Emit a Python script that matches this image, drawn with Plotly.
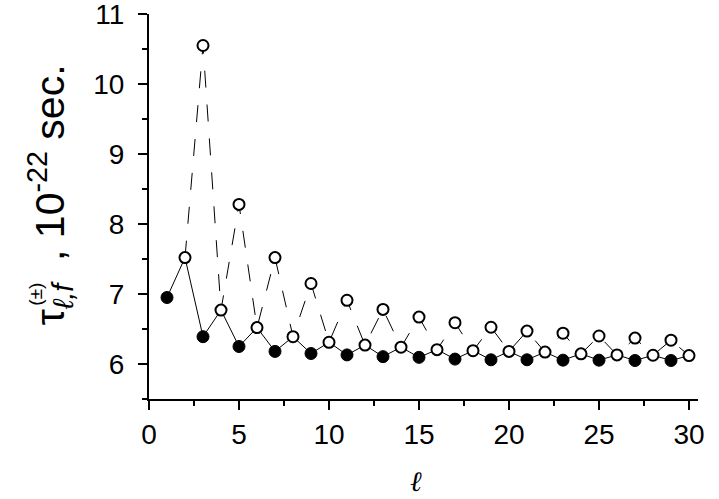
import plotly.graph_objects as go

# lifetimes (10^-22 s)
ell_odd = [1, 3, 5, 7, 9, 11, 13, 15, 17, 19, 21, 23, 25, 27, 29]
tau_odd_lower = [6.95, 6.39, 6.25, 6.18, 6.15, 6.13, 6.105, 6.095, 6.07, 6.06,
                 6.06, 6.055, 6.055, 6.05, 6.05]
ell_even = [2, 4, 6, 8, 10, 12, 14, 16, 18, 20, 22, 24, 26, 28, 30]
tau_even = [7.52, 6.77, 6.52, 6.39, 6.31, 6.27, 6.24, 6.205, 6.19, 6.18,
            6.17, 6.145, 6.13, 6.125, 6.12]
ell_upper = [3, 5, 7, 9, 11, 13, 15, 17, 19, 21, 23, 25, 27, 29]
tau_odd_upper = [10.55, 8.28, 7.52, 7.15, 6.91, 6.78, 6.67, 6.59, 6.525, 6.47,
                 6.44, 6.40, 6.37, 6.34]

# solid zig-zag: odd (filled) <-> even (open)
solid = sorted(zip(ell_odd + ell_even, tau_odd_lower + tau_even))
# dashed zig-zag: even (open) <-> odd upper (open)
dashed = sorted(zip(ell_even + ell_upper, tau_even + tau_odd_upper))

fig = go.Figure()
fig.add_trace(go.Scatter(x=[p[0] for p in dashed], y=[p[1] for p in dashed],
                         mode="lines", line=dict(color="black", width=1, dash="17px,17px")))
fig.add_trace(go.Scatter(x=[p[0] for p in solid], y=[p[1] for p in solid],
                         mode="lines", line=dict(color="black", width=1)))
fig.add_trace(go.Scatter(x=ell_odd, y=tau_odd_lower, mode="markers",
                         marker=dict(symbol="circle", size=12, color="black",
                                     line=dict(color="black", width=1))))
fig.add_trace(go.Scatter(x=ell_even + ell_upper, y=tau_even + tau_odd_upper, mode="markers",
                         marker=dict(symbol="circle", size=11, color="white",
                                     line=dict(color="black", width=2))))

axis_common = dict(showline=True, linecolor="black", linewidth=2, ticks="outside",
                   ticklen=9, tickwidth=2, tickcolor="black", showgrid=False,
                   zeroline=False, automargin=False, ticklabeloverflow="allow",
                   tickfont=dict(size=28, color="black", family="Liberation Sans"))

fig.update_layout(
    width=719, height=499,
    margin=dict(l=149, r=21, t=14, b=100),
    plot_bgcolor="white", paper_bgcolor="white",
    showlegend=False, hovermode=False,
    font=dict(family="Liberation Sans, Arial, sans-serif", color="black"),
    xaxis=dict(range=[0, 30.5], tick0=0, dtick=5,
               minor=dict(dtick=2.5, ticks="outside", ticklen=5, tickwidth=2, tickcolor="black"),
               **axis_common),
    yaxis=dict(range=[5.5, 11.0001], tick0=5, dtick=1, ticklabelstandoff=8,
               minor=dict(dtick=0.5, ticks="outside", ticklen=5, tickwidth=2, tickcolor="black"),
               **axis_common),
)

# x-axis title
fig.add_annotation(xref="paper", yref="paper", x=0.486, y=-0.213, showarrow=False,
                   xanchor="center", yanchor="middle", text="<i>ℓ</i>",
                   font=dict(size=28, family="DejaVu Serif"))
# y-axis title: main text plus the stacked (±) above the l,f subscript
fig.add_annotation(xref="paper", yref="paper", x=-0.180, y=0.530, showarrow=False,
                   xanchor="center", yanchor="middle", textangle=-90,
                   text="τ<sub><i>ℓ,f</i></sub>\u00a0\u00a0, 10<sup>-22</sup> sec.",
                   font=dict(size=41, family="Liberation Sans"))
fig.add_annotation(xref="paper", yref="paper", x=-0.207, y=0.272, showarrow=False,
                   xanchor="center", yanchor="middle", textangle=-90,
                   text="(±)", font=dict(size=19, family="Liberation Sans"))

# drop the default page margin so the figure sits at the window corner
fig.write_html("out.html", config={"displayModeBar": False},
               post_script="document.body.style.margin='0px';")
